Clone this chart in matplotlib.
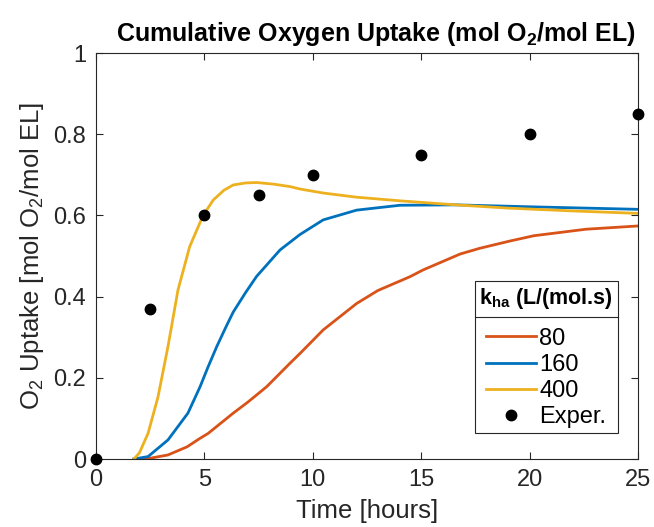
import matplotlib
matplotlib.use("Agg")
import matplotlib.pyplot as plt
from matplotlib.lines import Line2D

plt.rcParams['font.family'] = ['Liberation Sans', 'DejaVu Sans']
plt.rcParams['mathtext.default'] = 'regular'

# model curves for the three k_ha values
t_400 = [1.75, 2.0, 2.4, 2.86, 3.32, 3.78, 4.32, 4.94, 5.41, 5.9, 6.33, 6.9, 7.41, 8.2,
         8.95, 9.41, 10.5, 12.0, 14.0, 16.6, 19.0, 22.0, 25.0]
o2_400 = [0.0, 0.015, 0.063, 0.153, 0.277, 0.416, 0.523, 0.600, 0.638, 0.662, 0.675, 0.680,
          0.681, 0.677, 0.671, 0.665, 0.655, 0.645, 0.636, 0.626, 0.618, 0.611, 0.605]

t_160 = [1.75, 2.4, 3.32, 4.24, 4.8, 5.17, 5.57, 6.0, 6.33, 6.9, 7.41, 8.49, 9.41, 10.48, 12.02,
         14.02, 16.6, 20.2, 25.0]
o2_160 = [0.0, 0.006, 0.047, 0.113, 0.178, 0.227, 0.277, 0.326, 0.362, 0.41, 0.45, 0.515, 0.553,
          0.589, 0.613, 0.625, 0.626, 0.621, 0.615]

t_80 = [1.75, 2.5, 3.32, 4.2, 4.8, 5.17, 6.33, 7.0, 7.87, 8.95, 9.41, 10.48, 12.02, 13.0,
        14.48, 15.1, 16.8, 17.7, 19.1, 20.2, 21.7, 22.6, 25.0]
o2_80 = [0.0, 0.002, 0.01, 0.03, 0.051, 0.063, 0.113, 0.14, 0.178, 0.236, 0.26, 0.318, 0.383,
         0.415, 0.449, 0.466, 0.505, 0.519, 0.537, 0.55, 0.56, 0.566, 0.574]

# experimental data
t_exp = [0, 2.5, 5, 7.5, 10, 15, 20, 25]
o2_exp = [0.0, 0.37, 0.60, 0.65, 0.70, 0.75, 0.80, 0.85]

fig = plt.figure(figsize=(6.54, 5.27), dpi=100)
ax = fig.add_axes([0.1468, 0.129, 0.8287, 0.7704])

ax.plot(t_80, o2_80, color='#D95319', lw=2.0, label='80')
ax.plot(t_160, o2_160, color='#0072BD', lw=2.0, label='160')
ax.plot(t_400, o2_400, color='#EDB120', lw=2.0, label='400')
ax.plot(t_exp, o2_exp, 'o', color='black', ms=7.5, clip_on=False, zorder=5, label='Exper.')

ax.set_xlim(0, 25)
ax.set_ylim(0, 1)
ax.set_xticks([0, 5, 10, 15, 20, 25])
ax.set_yticks([0, 0.2, 0.4, 0.6, 0.8, 1])
ax.set_yticklabels(['0', '0.2', '0.4', '0.6', '0.8', '1'])
ax.tick_params(direction='in', top=True, right=True, length=5, width=0.8,
               color='#262626', labelsize=17, labelcolor='#262626', pad=7)
for sp in ax.spines.values():
    sp.set_color('#262626')
    sp.set_linewidth(0.8)

ax.set_xlabel('Time [hours]', fontsize=18.5, color='#262626', labelpad=6)
ax.set_ylabel('O$_2$ Uptake [mol O$_2$/mol EL]', fontsize=18.5, color='#262626', labelpad=5)
ax.set_title('Cumulative Oxygen Uptake (mol O$_2$/mol EL)', fontsize=18, fontweight='bold',
             pad=9, x=0.517)

leg = ax.legend(loc='lower right', bbox_to_anchor=(0.963, 0.064), borderaxespad=0,
                title='k$_{ha}$ (L/(mol.s)', title_fontproperties={'weight': 'bold', 'size': 15.5},
                fontsize=17, handlelength=2.1, handletextpad=0.15, labelspacing=0.18,
                fancybox=False, framealpha=1, edgecolor='#262626', borderpad=0.2)
leg.get_frame().set_linewidth(0.8)
leg._legend_box.sep = 12  # extra room between title and entries

# line under the legend title
fig.canvas.draw()
tb = leg.get_title().get_window_extent()
fb = leg.get_frame().get_window_extent()
inv = fig.transFigure.inverted()
(x0, y0), (x1, _) = inv.transform([(fb.x0, tb.y0 - 6), (fb.x1, tb.y0 - 6)])
fig.add_artist(Line2D([x0, x1], [y0, y0], transform=fig.transFigure, color='#262626', lw=0.8, zorder=10))

fig.savefig('out.png', dpi=100)
